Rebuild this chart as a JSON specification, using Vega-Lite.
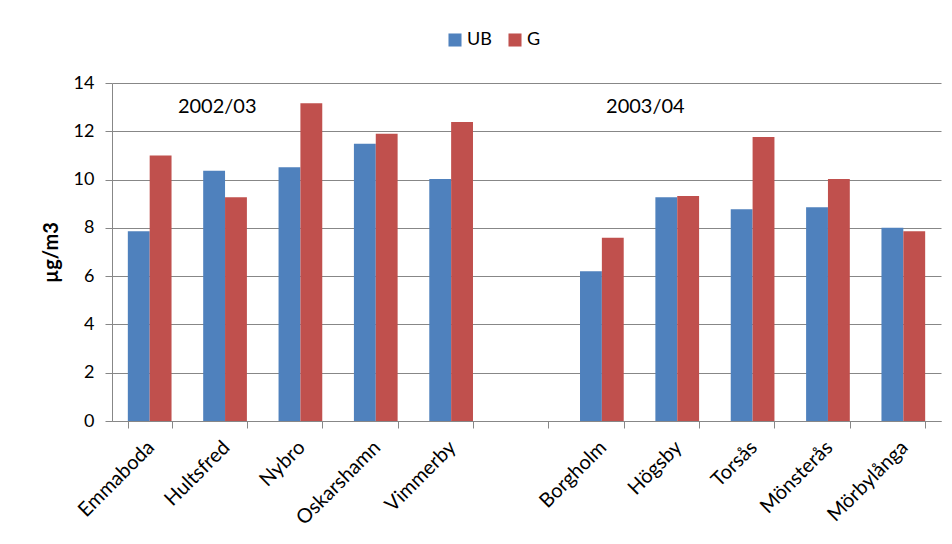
{
  "$schema": "https://vega.github.io/schema/vega-lite/v6.json",
  "width": 829,
  "height": 338,
  "autosize": "none",
  "padding": {"left": 112, "top": 83, "right": 11, "bottom": 123},
  "background": "white",
  "config": {
    "font": "Lato",
    "view": {"stroke": null},
    "axis": {
      "labelFont": "Lato",
      "labelColor": "#000000",
      "domainColor": "#878787",
      "tickColor": "#878787",
      "gridColor": "#878787",
      "tickSize": 7
    }
  },
  "datasets": {
    "pm": [
      {"kommun": "Emmaboda", "serie": "UB", "varde": 7.86},
      {"kommun": "Emmaboda", "serie": "G", "varde": 11.0},
      {"kommun": "Hultsfred", "serie": "UB", "varde": 10.37},
      {"kommun": "Hultsfred", "serie": "G", "varde": 9.27},
      {"kommun": "Nybro", "serie": "UB", "varde": 10.51},
      {"kommun": "Nybro", "serie": "G", "varde": 13.16},
      {"kommun": "Oskarshamn", "serie": "UB", "varde": 11.48},
      {"kommun": "Oskarshamn", "serie": "G", "varde": 11.9},
      {"kommun": "Vimmerby", "serie": "UB", "varde": 10.02},
      {"kommun": "Vimmerby", "serie": "G", "varde": 12.38},
      {"kommun": "Borgholm", "serie": "UB", "varde": 6.2},
      {"kommun": "Borgholm", "serie": "G", "varde": 7.59},
      {"kommun": "Högsby", "serie": "UB", "varde": 9.27},
      {"kommun": "Högsby", "serie": "G", "varde": 9.32},
      {"kommun": "Torsås", "serie": "UB", "varde": 8.77},
      {"kommun": "Torsås", "serie": "G", "varde": 11.76},
      {"kommun": "Mönsterås", "serie": "UB", "varde": 8.85},
      {"kommun": "Mönsterås", "serie": "G", "varde": 10.02},
      {"kommun": "Mörbylånga", "serie": "UB", "varde": 8.0},
      {"kommun": "Mörbylånga", "serie": "G", "varde": 7.86}
    ],
    "period": [
      {"text": "2002/03", "kommun": "Hultsfred", "varde": 13.0, "skift": 14},
      {"text": "2003/04", "kommun": "Högsby", "varde": 13.0, "skift": -10}
    ]
  },
  "layer": [
    {
      "data": {"name": "pm"},
      "mark": {"type": "bar"},
      "encoding": {
        "x": {
          "field": "kommun",
          "type": "nominal",
          "sort": null,
          "scale": {
            "domain": ["Emmaboda", "Hultsfred", "Nybro", "Oskarshamn", "Vimmerby", " ", "Borgholm", "Högsby", "Torsås", "Mönsterås", "Mörbylånga"],
            "paddingInner": 0.42,
            "paddingOuter": 0.21
          },
          "axis": {
            "title": null,
            "labelAngle": -45,
            "labelFontSize": 20,
            "labelPadding": 9,
            "labelOffset": -6,
            "tickBand": "extent",
            "grid": false
          }
        },
        "xOffset": {
          "field": "serie",
          "type": "nominal",
          "scale": {"domain": ["UB", "G"]}
        },
        "y": {
          "field": "varde",
          "type": "quantitative",
          "scale": {"domain": [0, 14], "nice": false},
          "axis": {
            "title": "µg/m3",
            "titleFont": "Lato",
            "titleFontSize": 20,
            "titleFontWeight": "bold",
            "titleColor": "#000000",
            "titlePadding": 12,
            "values": [0, 2, 4, 6, 8, 10, 12, 14],
            "labelFontSize": 18,
            "labelPadding": 11,
            "grid": true
          }
        },
        "color": {
          "field": "serie",
          "type": "nominal",
          "scale": {"domain": ["UB", "G"], "range": ["#4F81BD", "#C0504D"]},
          "legend": {
            "title": null,
            "orient": "none",
            "direction": "horizontal",
            "legendX": 334,
            "legendY": -52,
            "symbolType": "square",
            "symbolSize": 170,
            "symbolStrokeWidth": 0,
            "symbolOpacity": 1,
            "labelFont": "Lato",
            "labelFontSize": 18,
            "labelColor": "#000000",
            "labelOffset": 3,
            "columnPadding": 14
          }
        }
      }
    },
    {
      "data": {"name": "period"},
      "transform": [{"filter": "datum.skift > 0"}],
      "mark": {"type": "text", "font": "Lato", "fontSize": 20, "color": "#000000", "baseline": "middle", "dx": 14},
      "encoding": {
        "x": {"field": "kommun", "type": "nominal"},
        "y": {"field": "varde", "type": "quantitative"},
        "text": {"field": "text"},
        "xOffset": {"value": 0}
      }
    },
    {
      "data": {"name": "period"},
      "transform": [{"filter": "datum.skift < 0"}],
      "mark": {"type": "text", "font": "Lato", "fontSize": 20, "color": "#000000", "baseline": "middle", "dx": -10},
      "encoding": {
        "x": {"field": "kommun", "type": "nominal"},
        "y": {"field": "varde", "type": "quantitative"},
        "text": {"field": "text"},
        "xOffset": {"value": 0}
      }
    }
  ]
}
